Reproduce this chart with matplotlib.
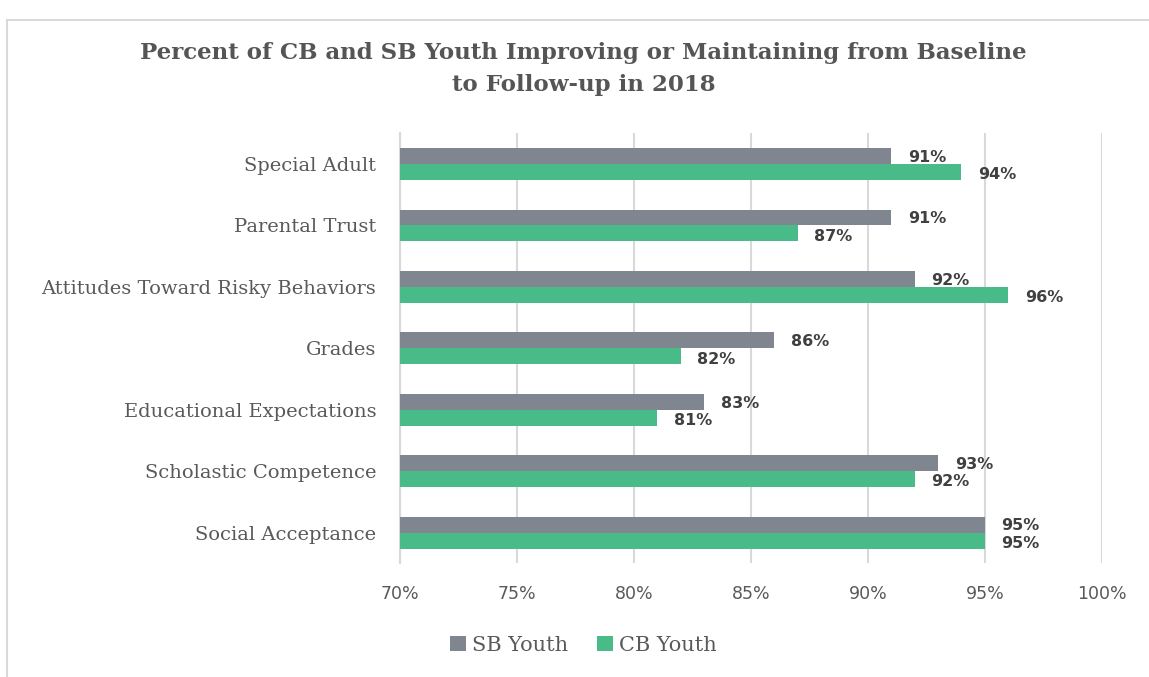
import numpy as np
import matplotlib.pyplot as plt
from matplotlib.patches import Rectangle
from matplotlib.ticker import PercentFormatter

# Chart data (top to bottom)
categories = ['Special Adult', 'Parental Trust', 'Attitudes Toward Risky Behaviors',
              'Grades', 'Educational Expectations', 'Scholastic Competence',
              'Social Acceptance']
sb_youth = [91, 91, 92, 86, 83, 93, 95]
cb_youth = [94, 87, 96, 82, 81, 92, 95]
x_ticks = [70, 75, 80, 85, 90, 95, 100]

gray = '#80868f'
green = '#48bb89'
text_col = '#595959'

fig = plt.figure(figsize=(11.49, 6.77), dpi=100)
ax = fig.add_axes([0.348, 0.168, 0.611, 0.635])

y = np.arange(len(categories))
h = 0.26
ax.barh(y - h / 2, sb_youth, height=h, color=gray, label='SB Youth', zorder=3)
ax.barh(y + h / 2, cb_youth, height=h, color=green, label='CB Youth', zorder=3)

# value labels
for yi, v in zip(y, sb_youth):
    ax.annotate(f'{v}%', (v, yi - h / 2), xytext=(12, -1), textcoords='offset points',
                ha='left', va='center', fontsize=11.5, fontweight='bold',
                color='#404040', family='DejaVu Sans')
for yi, v in zip(y, cb_youth):
    ax.annotate(f'{v}%', (v, yi + h / 2), xytext=(12, -2), textcoords='offset points',
                ha='left', va='center', fontsize=11.5, fontweight='bold',
                color='#404040', family='DejaVu Sans')

ax.set_xlim(70, 100)
ax.set_ylim(len(categories) - 0.5, -0.5)
ax.set_xticks(x_ticks)
ax.xaxis.set_major_formatter(PercentFormatter(decimals=0))
ax.set_yticks(y)
ax.set_yticklabels(categories, family='DejaVu Serif', fontsize=14, color=text_col)
ax.tick_params(axis='x', length=0, pad=16, labelsize=12.5, labelcolor=text_col)
ax.tick_params(axis='y', length=0, pad=17)
ax.grid(axis='x', color='#d9d9d9', linewidth=1.5, zorder=0)
for s in ['top', 'right', 'bottom']:
    ax.spines[s].set_visible(False)
ax.spines['left'].set_color('#d9d9d9')
ax.spines['left'].set_linewidth(1.5)

fig.text(0.508, 0.898, 'Percent of CB and SB Youth Improving or Maintaining from Baseline\nto Follow-up in 2018',
         ha='center', va='center', fontsize=16.5, fontweight='bold', color='#555555',
         family='DejaVu Serif', linespacing=1.6)

leg = fig.legend(loc='center', bbox_to_anchor=(0.508, 0.047), ncol=2, frameon=False,
                 handlelength=0.75, handleheight=0.75, handletextpad=0.3, columnspacing=1.4,
                 prop={'family': 'DejaVu Serif', 'size': 15})
for t in leg.get_texts():
    t.set_color(text_col)

# chart frame
fig.patches.append(Rectangle((0.006, -0.1), 1.2, 1.07, transform=fig.transFigure,
                             fill=False, edgecolor='#d9d9d9', linewidth=1.5))

fig.savefig('out.png', dpi=100)
